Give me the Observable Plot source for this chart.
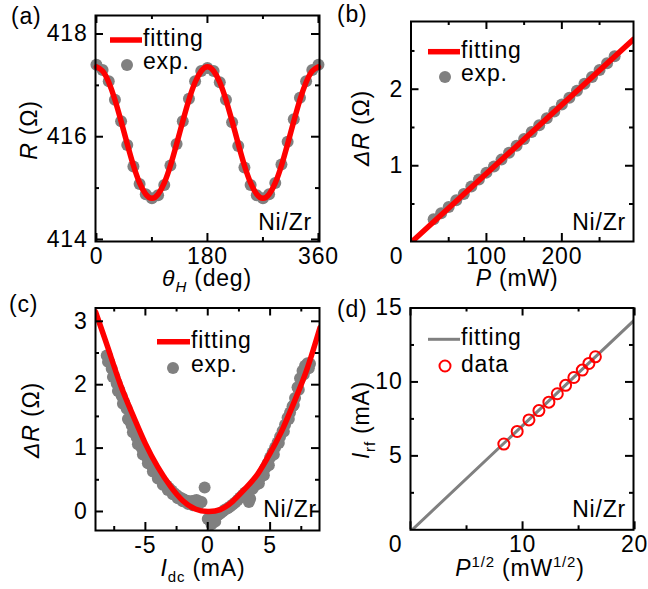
<!DOCTYPE html>
<html><head><meta charset="utf-8">
<script src="https://cdn.jsdelivr.net/npm/d3@7"></script>
<script src="https://cdn.jsdelivr.net/npm/@observablehq/plot@0.6"></script>
<style>
body{margin:0;background:#fff;}
#fig{position:relative;width:648px;height:589px;background:#fff;}
#fig svg{position:absolute;left:0;top:0;}
</style></head><body><div id="fig"></div>
<script>
// ---------- (a) R vs theta_H ----------
const thetaDeg = [0,10,20,30,40,50,60,70,80,90,100,110,120,130,140,150,160,170,180,190,200,210,220,230,240,250,260,270,280,290,300,310,320,330,340,350,360];
const rExp = [417.40,417.30,417.08,416.72,416.30,415.84,415.42,415.08,414.88,414.80,414.86,415.06,415.44,415.86,416.30,416.74,417.08,417.28,417.34,417.28,417.06,416.72,416.28,415.82,415.40,415.06,414.86,414.80,414.88,415.10,415.46,415.90,416.34,416.76,417.08,417.30,417.40];
const rFit = [417.36,417.28,417.06,416.72,416.30,415.86,415.44,415.10,414.88,414.80,414.88,415.10,415.44,415.86,416.30,416.72,417.06,417.28,417.36,417.28,417.06,416.72,416.30,415.86,415.44,415.10,414.88,414.80,414.88,415.10,415.44,415.86,416.30,416.72,417.06,417.28,417.36];
// ---------- (b) dR vs P ----------
const powerMW = [30,40,50,60,70,80,90,100,110,120,130,140,150,160,170,180,190,200,210,220,230,240,250,260,270];
const dRpower = [0.30,0.38,0.46,0.55,0.63,0.73,0.82,0.91,0.99,1.08,1.17,1.26,1.35,1.44,1.53,1.62,1.71,1.80,1.89,1.98,2.07,2.16,2.25,2.34,2.43];
const powerFit = [0,295];
const dRpowerFit = [-0.003,2.652];
// ---------- (c) dR vs Idc ----------
const idcExp = [-8.1,-7.9,-7.7,-7.5,-7.3,-7.1,-6.9,-6.7,-6.5,-6.3,-6.1,-5.9,-5.7,-5.5,-5.3,-5.1,-4.9,-4.7,-4.5,-4.3,-4.1,-3.9,-3.7,-3.5,-3.3,-3.1,-2.9,-2.7,-2.5,-2.3,-2.1,-1.9,-1.7,-1.5,-1.3,-1.1,-0.9,-0.7,-0.5,-0.25,
  0.0,0.2,0.4,0.6,0.8,1.0,1.2,1.4,1.6,1.8,2.0,2.2,2.4,2.6,2.8,3.0,3.3,3.4,3.6,3.8,4.0,4.2,4.4,4.6,4.8,5.0,5.2,5.4,5.6,5.8,6.0,6.2,6.4,6.6,6.8,7.0,7.2,7.4,7.6,7.8,8.0,8.2,
  -8.0,-7.6,-7.2,-6.8,-6.4,-6.0,-5.6,-5.2,-4.8,-4.4,-4.0,-3.6,-3.2,-2.8,-2.4,-2.0,-1.6,-1.2,-0.8,
  0.3,0.6,4.1,4.5,4.9,5.3,5.7,6.1,6.5,6.9,7.3,7.7,8.1];
const dRidc = [2.46,2.36,2.25,2.13,2.02,1.92,1.82,1.72,1.62,1.44,1.36,1.27,1.17,1.08,1.00,0.93,0.86,0.79,0.72,0.66,0.61,0.55,0.50,0.45,0.41,0.37,0.33,0.29,0.26,0.23,0.21,0.19,0.17,0.16,0.16,0.17,0.18,0.16,0.15,0.38,
  -0.12,-0.15,-0.13,-0.10,-0.06,-0.03,0.00,0.03,0.05,0.08,0.11,0.14,0.18,0.22,0.26,0.30,0.15,0.20,0.36,0.41,0.47,0.53,0.60,0.68,0.76,0.85,0.93,1.01,1.09,1.18,1.27,1.37,1.48,1.56,1.66,1.79,1.96,2.10,2.22,2.30,2.34,2.33,
  2.36,2.12,1.90,1.70,1.46,1.25,1.06,0.90,0.76,0.63,0.52,0.42,0.34,0.27,0.21,0.16,0.12,0.10,0.10,
  -0.20,-0.16,0.44,0.57,0.73,0.90,1.08,1.26,1.46,1.68,1.92,2.16,2.26];
const idcFit = [-9,-8,-7,-6,-5,-4,-3,-2,-1,0,1,2,3,4,5,6,7,8,9];
const dRidcFit = [3.15,2.58,2.00,1.52,1.07,0.70,0.40,0.17,0.04,0.00,0.03,0.16,0.36,0.59,0.92,1.30,1.76,2.27,2.90];
// ---------- (d) Irf vs sqrt(P) ----------
const sqrtP = [8.33,9.52,10.57,11.46,12.35,13.10,13.84,14.58,15.33,15.92,16.50];
const irf = [5.80,6.65,7.43,8.06,8.63,9.20,9.77,10.30,10.80,11.25,11.70];
const sqrtPFit = [0.15,20];
const irfFit = [0,14.2];

const W = 648, H = 589;
const FONT = 'Arial, "Liberation Sans", sans-serif';
const RED = "#ff0000", GRAY = "#808080";
const fig = document.getElementById("fig");
const fmt = d => String(d);

function panel(o) {
  const [x0, x1, y0, y1] = o.frame;
  const pw = x1 - x0, ph = y1 - y0;
  const M = 8, m = 4;
  const tk = (vals, len) => [
    Plot.tickX(vals, {x: d => d, insetTop: ph - len, stroke: "#000", strokeWidth: 2}),
    Plot.tickX(vals, {x: d => d, insetBottom: ph - len, stroke: "#000", strokeWidth: 2})
  ];
  const tky = (vals, len) => [
    Plot.tickY(vals, {y: d => d, insetRight: pw - len, stroke: "#000", strokeWidth: 2}),
    Plot.tickY(vals, {y: d => d, insetLeft: pw - len, stroke: "#000", strokeWidth: 2})
  ];
  const axes = [
    Plot.axisX(o.xLabels, {anchor: "bottom", tickSize: 0, tickPadding: 6, label: null, tickFormat: fmt}),
    Plot.axisY(o.yLabels, {anchor: "left", tickSize: 0, tickPadding: 8, label: null, tickFormat: fmt})
  ];
  if (o.zeroShift) axes.push(Plot.axisX([0], {anchor: "bottom", tickSize: 0, tickPadding: 6, label: null, dx: o.zeroShift, tickFormat: fmt}));
  const svg = Plot.plot({
    width: W, height: H,
    marginLeft: x0, marginRight: W - x1, marginTop: y0, marginBottom: H - y1,
    x: {domain: o.xDomain}, y: {domain: o.yDomain},
    style: {fontSize: "23px", fontFamily: FONT, background: "transparent", overflow: "visible", letterSpacing: "0.8px", color: "#000"},
    marks: [
      ...o.marks,
      ...tk(o.xMajor, M), ...tk(o.xMinor, m),
      ...tky(o.yMajor, M), ...tky(o.yMinor, m),
      Plot.frame({stroke: "#000", strokeWidth: 2}),
      ...axes
    ]
  });
  fig.appendChild(svg);
}

// (a)
panel({
  frame: [95, 319, 15, 241], xDomain: [-1.5, 361.7], yDomain: [413.96, 418.36],
  xMajor: [0,180,360], xMinor: [90,270], yMajor: [414,416,418], yMinor: [415,417],
  xLabels: [0,180,360], yLabels: [414,416,418],
  marks: [
    Plot.dot(thetaDeg.map((t,i)=>({t, r: rExp[i]})), {x: "t", y: "r", r: 6, fill: GRAY}),
    Plot.line(thetaDeg.map((t,i)=>({t, r: rFit[i]})), {x: "t", y: "r", stroke: RED, strokeWidth: 5.5, curve: "natural"})
  ]
});
// (b)
panel({
  frame: [410.5, 633, 21, 241], xDomain: [0, 295], yDomain: [0.01, 2.885],
  xMajor: [0,100,200], xMinor: [50,150,250], yMajor: [1,2], yMinor: [0.5,1.5,2.5],
  xLabels: [100,200], yLabels: [1,2], zeroShift: -14.5,
  marks: [
    Plot.dot(powerMW.map((p,i)=>({p, d: dRpower[i]})), {x: "p", y: "d", r: 6, fill: GRAY}),
    Plot.line(powerFit.map((p,i)=>({p, d: dRpowerFit[i]})), {x: "p", y: "d", stroke: RED, strokeWidth: 5.5, clip: true})
  ]
});
// (c)
panel({
  frame: [95, 319, 307.5, 530], xDomain: [-9.0, 8.96], yDomain: [-0.3, 3.21],
  xMajor: [-5,0,5], xMinor: [-7.5,-2.5,2.5,7.5], yMajor: [0,1,2,3], yMinor: [0.5,1.5,2.5],
  xLabels: [-5,0,5], yLabels: [0,1,2,3],
  marks: [
    Plot.dot(idcExp.map((c,i)=>({c, d: dRidc[i]})), {x: "c", y: "d", r: 6, fill: GRAY}),
    Plot.line(idcFit.map((c,i)=>({c, d: dRidcFit[i]})), {x: "c", y: "d", stroke: RED, strokeWidth: 5.5, curve: "natural", clip: true})
  ]
});
// (d)
panel({
  frame: [410, 633, 307.5, 529.3], xDomain: [0, 19.9], yDomain: [0, 15],
  xMajor: [0,10,20], xMinor: [5,15], yMajor: [5,10,15], yMinor: [2.5,7.5,12.5],
  xLabels: [10,20], yLabels: [5,10,15], zeroShift: -15,
  marks: [
    Plot.line(sqrtPFit.map((s,i)=>({s, v: irfFit[i]})), {x: "s", y: "v", stroke: GRAY, strokeWidth: 3, clip: true}),
    Plot.dot(sqrtP.map((s,i)=>({s, v: irf[i]})), {x: "s", y: "v", r: 5.5, fill: "none", stroke: RED, strokeWidth: 2})
  ]
});

// ---------- text overlay: titles, legends, labels ----------
const ov = d3.select(fig).append("svg").attr("width", W).attr("height", H)
  .style("font-family", FONT).style("font-size", "23px").style("letter-spacing", "0.8px");
function rich(x, y, parts, opt = {}) {
  const t = ov.append("text").attr("x", x).attr("y", y).attr("text-anchor", opt.anchor || "middle").attr("fill", "#000");
  if (opt.rotate) t.attr("transform", `rotate(-90 ${x} ${y})`);
  for (const p of parts) {
    const s = t.append("tspan").text(p.t);
    if (p.i) s.attr("font-style", "italic");
    if (p.sub) s.attr("font-size", "15px").attr("dy", 6);
    if (p.sup) s.attr("font-size", "15px").attr("dy", -9);
    if (p.back) s.attr("dy", p.back);
  }
  return t;
}
// panel letters
rich(11, 24, [{t: "(a)"}], {anchor: "start"});
rich(337, 22, [{t: "(b)"}], {anchor: "start"});
rich(9, 312, [{t: "(c)"}], {anchor: "start"});
rich(337, 317, [{t: "(d)"}], {anchor: "start"});
// axis titles
rich(207, 286, [{t: "θ", i: true}, {t: "H", i: true, sub: true}, {t: " (deg)", back: -6}]);
rich(37, 130, [{t: "R", i: true}, {t: " (Ω)"}], {rotate: true});
rich(517, 286, [{t: "P", i: true}, {t: " (mW)"}]);
rich(369, 128, [{t: "ΔR", i: true}, {t: " (Ω)"}], {rotate: true});
rich(203, 576, [{t: "I", i: true}, {t: "dc", sub: true}, {t: " (mA)", back: -6}]);
rich(39, 420, [{t: "ΔR", i: true}, {t: " (Ω)"}], {rotate: true});
rich(520, 576, [{t: "P", i: true}, {t: "1/2", sup: true}, {t: " (mW", back: 9}, {t: "1/2", sup: true}, {t: ")", back: 9}]);
rich(369, 420, [{t: "I", i: true}, {t: "rf", sub: true}, {t: " (mA)", back: -6}], {rotate: true});
// Ni/Zr
rich(312, 230, [{t: "Ni/Zr"}], {anchor: "end"});
rich(626, 230, [{t: "Ni/Zr"}], {anchor: "end"});
rich(317, 517, [{t: "Ni/Zr"}], {anchor: "end"});
rich(626, 517, [{t: "Ni/Zr"}], {anchor: "end"});
// legends
function legend(lx0, lx1, ly, dotx, doty, tx, tb1, tb2, lineColor, lineW, hollow, label2) {
  ov.append("line").attr("x1", lx0).attr("x2", lx1).attr("y1", ly).attr("y2", ly).attr("stroke", lineColor).attr("stroke-width", lineW);
  if (hollow) ov.append("circle").attr("cx", dotx).attr("cy", doty).attr("r", 5.5).attr("fill", "none").attr("stroke", RED).attr("stroke-width", 2);
  else ov.append("circle").attr("cx", dotx).attr("cy", doty).attr("r", 6).attr("fill", GRAY);
  rich(tx, tb1, [{t: "fitting"}], {anchor: "start"});
  rich(tx, tb2, [{t: label2}], {anchor: "start"});
}
legend(110, 142, 40, 127, 65, 143, 46, 69, RED, 5.5, false, "exp.");
legend(428, 460, 51.7, 445, 77, 461, 58, 81, RED, 5.5, false, "exp.");
legend(157, 190, 341.7, 173, 368, 191, 348, 372, RED, 5.5, false, "exp.");
legend(428, 460, 339.3, 445, 366, 461, 345, 372, GRAY, 3, true, "data");
</script></body></html>
